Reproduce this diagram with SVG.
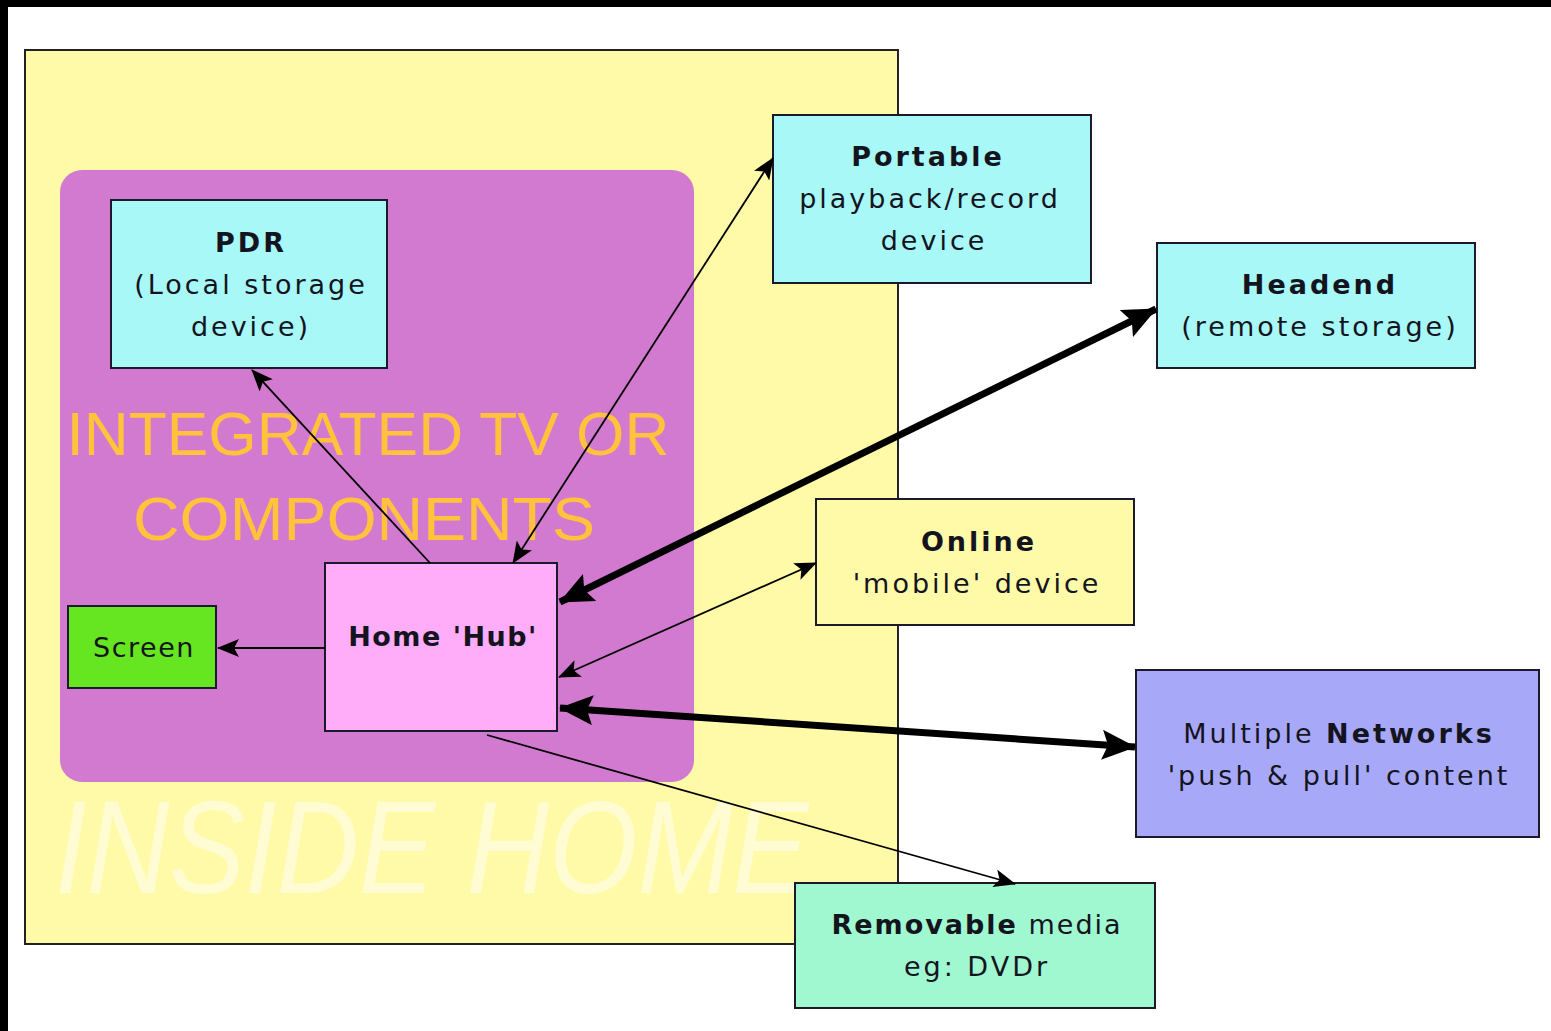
<svg xmlns="http://www.w3.org/2000/svg" width="1551" height="1031" viewBox="0 0 1551 1031">
<defs>
<style>
.box{stroke:#1a1a2a;stroke-width:2}
.t{font-family:"DejaVu Sans","Liberation Sans",sans-serif;font-size:27px;fill:#14141e;text-anchor:middle;letter-spacing:3px}
.b{font-weight:bold}
.thin{stroke:#000;stroke-width:1.8;fill:none}
.thick{stroke:#000;stroke-width:7;fill:none}
</style>
<marker id="a" viewBox="0 0 22 18" refX="21" refY="9" markerWidth="22" markerHeight="18" markerUnits="userSpaceOnUse" orient="auto-start-reverse">
<path d="M0,0 L22,9 L0,18 L5,9 Z" fill="#000"/>
</marker>
<marker id="A" viewBox="0 0 34 30" refX="33" refY="15" markerWidth="34" markerHeight="30" markerUnits="userSpaceOnUse" orient="auto-start-reverse">
<path d="M0,0 L34,15 L0,30 L6,15 Z" fill="#000"/>
</marker>
</defs>
<rect x="0" y="0" width="1551" height="1031" fill="#ffffff"/>
<rect x="0" y="0" width="1551" height="7" fill="#000"/>
<rect x="0" y="0" width="8" height="1031" fill="#000"/>

<g id="inside-home">
<rect x="25" y="50" width="873" height="894" fill="#fffaa8" stroke="#222" stroke-width="2"/>
<text transform="translate(55,893) scale(1,1.15)" x="0" y="0" font-family="Liberation Sans,sans-serif" font-style="italic" font-size="114" fill="#fffcd4">INSIDE HOME</text>
</g>
<g id="integrated-tv">
<rect x="60" y="170" width="634" height="612" rx="22" fill="#d27ad0"/>
<text x="368" y="455" font-family="Liberation Sans,sans-serif" font-size="62" fill="#ffc23a" text-anchor="middle" textLength="603" lengthAdjust="spacingAndGlyphs">INTEGRATED TV OR</text>
<text x="364" y="540" font-family="Liberation Sans,sans-serif" font-size="62" fill="#ffc23a" text-anchor="middle" textLength="462" lengthAdjust="spacingAndGlyphs">COMPONENTS</text>
</g>

<g id="pdr">
<rect class="box" x="111" y="200" width="276" height="168" fill="#a8f8f8"/>
<text class="t b" x="251" y="252">PDR</text>
<text class="t" x="251" y="294">(Local storage</text>
<text class="t" x="251" y="336">device)</text>
</g>
<g id="portable">
<rect class="box" x="773" y="115" width="318" height="168" fill="#a8f8f8"/>
<text class="t b" x="928" y="166">Portable</text>
<text class="t" x="930" y="208">playback/record</text>
<text class="t" x="934" y="250">device</text>
</g>
<g id="headend">
<rect class="box" x="1157" y="243" width="318" height="125" fill="#a8f8f8"/>
<text class="t b" x="1320" y="294">Headend</text>
<text class="t" x="1320" y="336">(remote storage)</text>
</g>
<g id="online">
<rect class="box" x="816" y="499" width="318" height="126" fill="#fffaa8"/>
<text class="t b" x="979" y="551">Online</text>
<text class="t" x="977" y="593">'mobile' device</text>
</g>
<g id="hub">
<rect class="box" x="325" y="563" width="232" height="168" fill="#ffadf8"/>
<text class="t b" x="443" y="646" style="letter-spacing:1.5px">Home 'Hub'</text>
</g>
<g id="screen">
<rect class="box" x="68" y="606" width="148" height="82" fill="#66e620"/>
<text class="t" x="144" y="657" style="letter-spacing:1.5px">Screen</text>
</g>
<g id="networks">
<rect class="box" x="1136" y="670" width="403" height="167" fill="#a8a8f8"/>
<text class="t" x="1339" y="743">Multiple <tspan class="b">Networks</tspan></text>
<text class="t" x="1339" y="785">'push &amp; pull' content</text>
</g>
<g id="removable">
<rect class="box" x="795" y="883" width="360" height="125" fill="#a0f8d0"/>
<text class="t" x="977" y="934" style="letter-spacing:2px"><tspan class="b">Removable</tspan> media</text>
<text class="t" x="977" y="976">eg: DVDr</text>
</g>

<g id="connectors">
<line class="thin" x1="430" y1="563" x2="252" y2="370" marker-end="url(#a)"/>
<line class="thin" x1="513" y1="563" x2="773" y2="158" marker-start="url(#a)" marker-end="url(#a)"/>
<line class="thick" x1="560" y1="602" x2="1156" y2="309" marker-start="url(#A)" marker-end="url(#A)"/>
<line class="thin" x1="559" y1="677" x2="816" y2="563" marker-start="url(#a)" marker-end="url(#a)"/>
<line class="thick" x1="560" y1="708" x2="1135" y2="747" marker-start="url(#A)" marker-end="url(#A)"/>
<line class="thin" x1="325" y1="648" x2="218" y2="648" marker-end="url(#a)"/>
<line class="thin" x1="487" y1="735" x2="1015" y2="884" marker-end="url(#a)"/>
</g>
</svg>
